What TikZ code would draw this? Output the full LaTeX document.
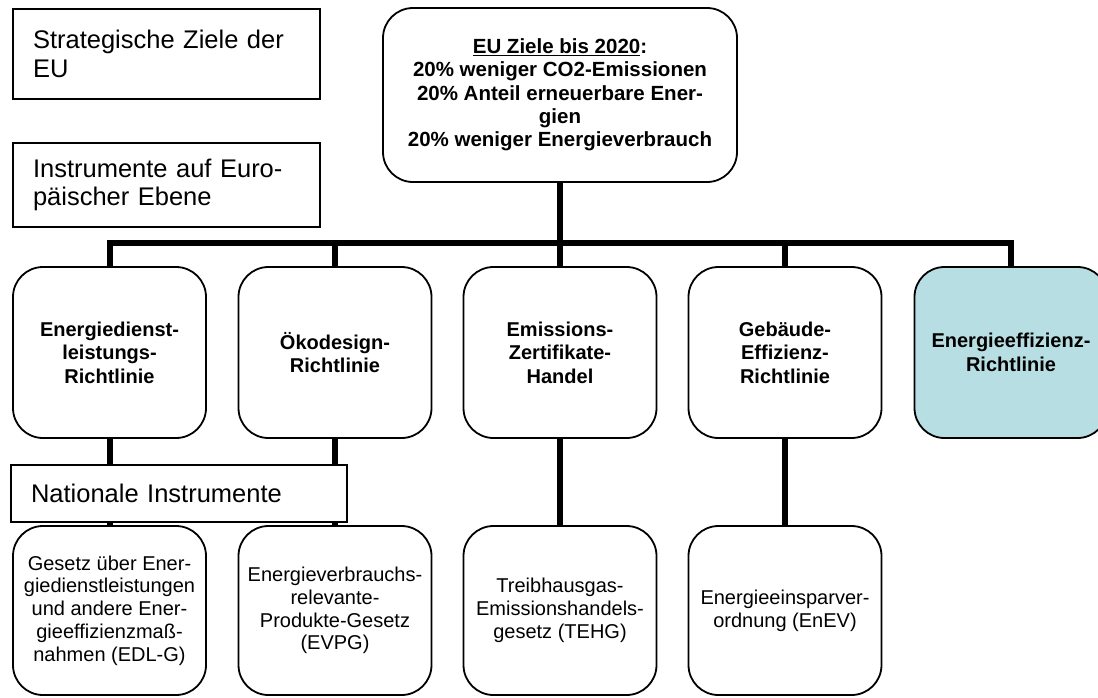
\documentclass[tikz,border=0pt]{standalone}
\usepackage{fontspec}
\setmainfont{Liberation Sans}
\usetikzlibrary{backgrounds}
\definecolor{effblue}{RGB}{183,222,226}
\begin{document}
\begin{tikzpicture}[x=1pt,y=-1pt,
  box/.style={draw=black, line width=1.8pt, rounded corners=30pt, fill=white,
    align=center, inner sep=0pt, minimum width=193pt},
  rowone/.style={box, minimum height=171pt, font=\bfseries\fontsize{20}{23.5}\selectfont},
  rowtwo/.style={box, minimum height=169pt, font=\fontsize{20}{22.7}\selectfont},
  topbox/.style={box, minimum width=354pt, minimum height=174pt, font=\bfseries\fontsize{20.5}{23.3}\selectfont},
  label/.style={draw=black, line width=1.8pt, fill=white, rectangle, align=left,
    inner ysep=0pt, inner xsep=20pt, font=\fontsize{25.5}{28.5}\selectfont},
  conn/.style={line width=6pt, draw=black}
]
\useasboundingbox (0,0) rectangle (1098,697);
\clip (0,0) rectangle (1098,697);

% labels
\node[label, text width=267pt, minimum height=90pt] (l1) at (166.5,54) {Strategische Ziele der\\EU};
\node[label, text width=267pt, minimum height=84pt] (l2) at (166.5,185) {Instrumente auf Euro-\\päischer Ebene};

% top box
\node[topbox] (top) at (560,95) {\underline{EU Ziele bis 2020}:\\20\% weniger CO2-Emissionen\\20\% Anteil erneuerbare Ener-\\gien\\20\% weniger Energieverbrauch};

% row one
\node[rowone] (b1) at (109.5,352.5) {Energiedienst-\\leistungs-\\Richtlinie};
\node[rowone] (b2) at (335,352.5) {Ökodesign-\\Richtlinie};
\node[rowone] (b3) at (560,352.5) {Emissions-\\Zertifikate-\\Handel};
\node[rowone] (b4) at (785,352.5) {Gebäude-\\Effizienz-\\Richtlinie};
\node[rowone, fill=effblue] (b5) at (1011,352.5) {Energieeffizienz-\\Richtlinie};

% row two
\node[rowtwo] (r1) at (109.5,610.5) {Gesetz über Ener-\\giedienstleistungen\\und andere Ener-\\gieeffizienzmaß-\\nahmen (EDL-G)};
\node[rowtwo] (r2) at (335,610.5) {Energieverbrauchs-\\relevante-\\Produkte-Gesetz\\(EVPG)};
\node[rowtwo] (r3) at (560,610.5) {Treibhausgas-\\Emissionshandels-\\gesetz (TEHG)};
\node[rowtwo] (r4) at (785,610.5) {Energieeinsparver-\\ordnung (EnEV)};

% national label
\node[label, text width=296pt, minimum height=57pt] (l3) at (179,493.5) {Nationale Instrumente};

\coordinate (bar) at (560,243);

\begin{scope}[on background layer]
\draw[conn] (top.south) -- (bar);
\draw[conn] (b1.north) |- (bar) -| (b5.north);
\draw[conn] (b2.north) -- (b2.north |- bar);
\draw[conn] (b3.north) -- (b3.north |- bar);
\draw[conn] (b4.north) -- (b4.north |- bar);
\draw[conn] (b1.south) -- (r1.north);
\draw[conn] (b2.south) -- (r2.north);
\draw[conn] (b3.south) -- (r3.north);
\draw[conn] (b4.south) -- (r4.north);
\end{scope}
\end{tikzpicture}
\end{document}
